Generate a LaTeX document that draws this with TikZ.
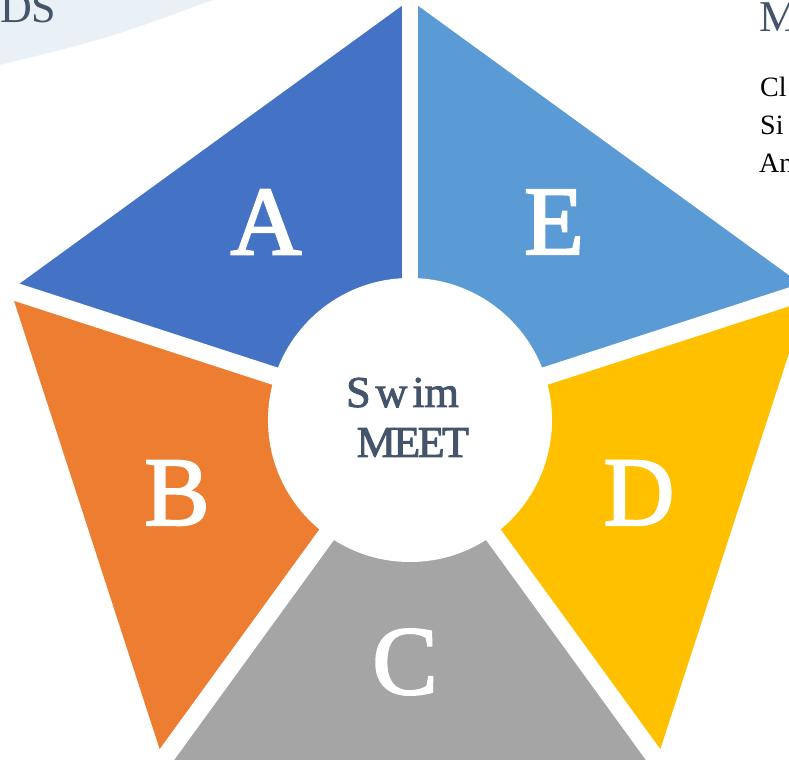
\documentclass[tikz,border=0pt]{standalone}
\usepackage{fontspec}
\setmainfont{Liberation Serif}
\newfontfamily\heavyserif[FakeBold=2.2]{Liberation Serif}
\newfontfamily\midserif[FakeBold=2]{Liberation Serif}
\usetikzlibrary{calc}
\definecolor{colA}{HTML}{4472C4}
\definecolor{colE}{HTML}{5B9BD5}
\definecolor{colB}{HTML}{ED7D31}
\definecolor{colD}{HTML}{FFC000}
\definecolor{colC}{HTML}{A5A5A5}
\definecolor{slate}{HTML}{44546A}
\definecolor{swoosh}{RGB}{233,241,246}
\tikzset{
  gapline/.style={white, line width=18pt, line cap=butt},
  letter/.style={text=white, inner sep=0pt, font=\heavyserif\fontsize{98}{98}\selectfont},
  hubtext/.style={text=slate, inner sep=0pt, anchor=base west, font=\midserif\fontsize{44}{44}\selectfont},
  headtext/.style={text=slate, inner sep=0pt, anchor=base west, font=\fontsize{44}{44}\selectfont},
  bodytext/.style={text=black, inner sep=0pt, anchor=base west, font=\fontsize{28}{28}\selectfont},
}
\begin{document}
\begin{tikzpicture}[x=1pt,y=1pt]
\useasboundingbox (0,0) rectangle (789,760);
\clip (0,0) rectangle (789,760);
% background swoosh
\fill[swoosh] (0,760) -- (213,760) .. controls (106,721) .. (0,695) -- cycle;
\node[headtext] (ds) at (0,737) {DS};
\node[headtext] (m) at (759,728) {M};
\node[bodytext] (cl) at (760,663) {Cl};
\node[bodytext] (si) at (760,625) {Si};
\node[bodytext] (an) at (759,587) {An};
% pentagon geometry
\coordinate (c) at (410,340);
\coordinate (v0) at ($(c)+(90:420)$);
\coordinate (v1) at ($(c)+(162:420)$);
\coordinate (v2) at ($(c)+(234:420)$);
\coordinate (v3) at ($(c)+(306:420)$);
\coordinate (v4) at ($(c)+(18:420)$);
\coordinate (g0) at ($(c)+(90:480)$);
\coordinate (g1) at ($(c)+(162:480)$);
\coordinate (g2) at ($(c)+(234:480)$);
\coordinate (g3) at ($(c)+(306:480)$);
\coordinate (g4) at ($(c)+(18:480)$);
\fill[colA] (c) -- (v0) -- (v1) -- cycle;
\fill[colB] (c) -- (v1) -- (v2) -- cycle;
\fill[colC] (c) -- (v2) -- (v3) -- cycle;
\fill[colD] (c) -- (v3) -- (v4) -- cycle;
\fill[colE] (c) -- (v4) -- (v0) -- cycle;
\draw[gapline, line width=16.5pt] (c) -- (g0);
\draw[gapline] (c) -- (g1);
\draw[gapline] (c) -- (g2);
\draw[gapline] (c) -- (g3);
\draw[gapline] (c) -- (g4);
\node[circle, fill=white, minimum size=284pt, inner sep=0pt] (hub) at (c) {};
\node[hubtext] (swim) at (346,353) {S\kern5pt w\kern5pt im};
\node[hubtext] (meet) at (356.5,303) {M\kern-2.5pt E\kern-2.5pt E\kern-2.5pt T};
% letters
\node[letter] (la) at (266,538) {A};
\node[letter] (le) at (554,538) {E};
\node[letter] (lb) at (177,267) {B};
\node[letter] (ld) at (639,267) {D};
\node[letter] (lc) at (405,98) {C};
\end{tikzpicture}
\end{document}
